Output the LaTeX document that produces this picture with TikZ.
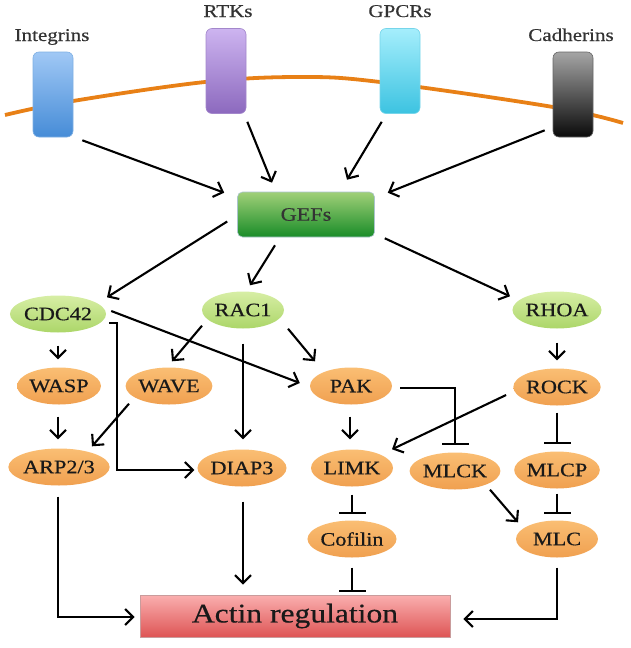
\documentclass[tikz,border=0pt]{standalone}
\usepackage{fontspec}
\setmainfont{Liberation Serif}[FakeStretch=1.17, FakeBold=0.5]
\usetikzlibrary{arrows.meta,shapes.geometric}
\definecolor{memb}{RGB}{232,128,22}
\definecolor{intTop}{RGB}{160,200,245}
\definecolor{intBot}{RGB}{70,140,215}
\definecolor{rtkTop}{RGB}{205,180,240}
\definecolor{rtkBot}{RGB}{140,105,190}
\definecolor{gpcTop}{RGB}{165,238,252}
\definecolor{gpcBot}{RGB}{60,195,225}
\definecolor{cadTop}{RGB}{165,165,165}
\definecolor{cadBot}{RGB}{10,10,10}
\definecolor{gefTop}{RGB}{160,208,120}
\definecolor{gefBot}{RGB}{25,140,40}
\definecolor{gtpTop}{RGB}{215,238,165}
\definecolor{gtpBot}{RGB}{172,214,105}
\definecolor{effTop}{RGB}{250,190,115}
\definecolor{effBot}{RGB}{240,160,80}
\definecolor{actTop}{RGB}{250,175,175}
\definecolor{actBot}{RGB}{222,85,85}
\begin{document}
\begin{tikzpicture}[x=1pt,y=-1pt,
  lab/.style={font=\fontsize{18}{20}\selectfont, text=black!80, anchor=base},
  recep/.style={rounded corners=6pt, minimum width=40pt, minimum height=85pt, inner sep=0pt, line width=0.6pt},
  ell/.style={ellipse, minimum width=82pt, minimum height=37pt, inner sep=0pt, font=\fontsize{19}{21}\selectfont, text=black!90},
  gtp/.style={ell, top color=gtpTop, bottom color=gtpBot},
  eff/.style={ell, top color=effTop, bottom color=effBot},
  arr/.style={line width=2.1pt, -{Straight Barb[length=8pt,width=16pt]}},
  inh/.style={line width=2.1pt, -{Bar[width=27pt]}},
]
\useasboundingbox (0,0) rectangle (630,648);
% membrane
\draw[memb, line width=3.8pt] plot[smooth, tension=0.6] coordinates {(5,115) (73,101) (205,82) (300,77) (380,82) (553,107) (623,123)};
% receptors
\node[recep, draw=intBot!70!white, top color=intTop, bottom color=intBot] (int) at (53,94.5) {};
\node[recep, draw=rtkBot!80!white, top color=rtkTop, bottom color=rtkBot] (rtk) at (226,71) {};
\node[recep, draw=gpcBot!70!white, top color=gpcTop, bottom color=gpcBot] (gpc) at (400,71) {};
\node[recep, draw=black!60, top color=cadTop, bottom color=cadBot] (cad) at (573,94.5) {};
\node[lab] (intl) at (52,41) {Integrins};
\node[lab] (rtkl) at (228,17) {RTKs};
\node[lab] (gpcl) at (400,17) {GPCRs};
\node[lab] (cadl) at (571,41) {Cadherins};
% GEFs
\node[rounded corners=5pt, minimum width=137pt, minimum height=45pt, inner sep=0pt, draw=cyan!30!gray!60, line width=0.6pt, top color=gefTop, bottom color=gefBot, font=\fontsize{19}{21}\selectfont, text=black!80] (gef) at (306,214.5) {GEFs};
% GTPases
\node[gtp] (cdc) at (58,314) {CDC42};
\node[gtp] (rac) at (243,310) {RAC1};
\node[gtp] (rho) at (557,310) {RHOA};
% effectors
\node[eff] (wasp) at (59,386) {WASP};
\node[eff] (wave) at (169,386) {WAVE};
\node[eff] (pak) at (351,386) {PAK};
\node[eff] (rock) at (557,387) {ROCK};
\node[eff] (arp) at (59,467) {ARP2/3};
\node[eff] (dia) at (242,468) {DIAP3};
\node[eff] (limk) at (352,468) {LIMK};
\node[eff] (mlck) at (455,471) {MLCK};
\node[eff] (mlcp) at (557,470) {MLCP};
\node[eff] (cof) at (352,539) {Cofilin};
\node[eff] (mlc) at (557,539) {MLC};
% actin
\node[minimum width=310pt, minimum height=42pt, inner sep=0pt, draw=red!30!gray!60, line width=0.6pt, top color=actTop, bottom color=actBot, font=\fontsize{27}{30}\selectfont, text=black!90] (act) at (295,616) {Actin regulation};
% receptor -> GEFs
\draw[arr] ([shift={(9,3)}]int.south east) -- ([shift={(-13,1)}]gef.north west);
\draw[arr] ([shift={(1,8)}]rtk.south east) -- ([shift={(-34,-9)}]gef.north);
\draw[arr] ([shift={(2,8)}]gpc.south west) -- ([shift={(41,-12)}]gef.north);
\draw[arr] ([shift={(-8,-7)}]cad.south west) -- ([shift={(13,1)}]gef.north east);
% GEFs -> GTPases
\draw[arr] ([shift={(-10,7)}]gef.west) -- ([shift={(49,2)}]cdc.north);
\draw[arr] ([shift={(-31,8)}]gef.south) -- ([shift={(7,-6)}]rac.north);
\draw[arr] ([shift={(10,1)}]gef.south east) -- ([shift={(-47,5)}]rho.north);
% CDC42
\draw[arr] ([shift={(0,13)}]cdc.south) -- ([shift={(-1,-8)}]wasp.north);
\draw[arr] ([shift={(3,9)}]cdc.east) -- ++(8,0) |- ([shift={(-3,2)}]dia.west);
\draw[arr] ([shift={(5,-3)}]cdc.east) -- ([shift={(-10,-3)}]pak.west);
% RAC1
\draw[arr] ([shift={(-41,-3)}]rac.south) -- ([shift={(3,-6)}]wave.north);
\draw[arr] ([shift={(45,0)}]rac.south) -- ([shift={(-36,-6)}]pak.north);
\draw[arr] ([shift={(0,15)}]rac.south) -- ([shift={(1,-10)}]dia.north);
% RHOA
\draw[arr] ([shift={(0,14)}]rho.south) -- ([shift={(0,-8)}]rock.north);
% WASP, WAVE
\draw[arr] ([shift={(-1,12)}]wasp.south) -- ([shift={(-1,-9)}]arp.north);
\draw[arr] ([shift={(-40,-1)}]wave.south) -- ([shift={(33,-2)}]arp.north);
% PAK
\draw[arr] ([shift={(-1,12)}]pak.south) -- ([shift={(-2,-10)}]limk.north);
\draw[inh] ([shift={(8,2)}]pak.east) -| ([shift={(0,-7)}]mlck.north);
% ROCK
\draw[arr] ([shift={(-7,8)}]rock.west) -- ([shift={(40,0)}]limk.north);
\draw[inh] ([shift={(0,7)}]rock.south) -- ([shift={(0,-7)}]mlcp.north);
\draw[inh] ([shift={(0,5)}]mlcp.south) -- ([shift={(0,-6)}]mlc.north);
\draw[arr] ([shift={(35,0)}]mlck.south) -- ([shift={(-39,2)}]mlc.north);
\draw[inh] ([shift={(0,8)}]limk.south) -- ([shift={(0,-6)}]cof.north);
% to actin
\draw[inh] ([shift={(0,10)}]cof.south) -- ([shift={(0,-3)}]cof.south |- act.north);
\draw[arr] ([shift={(1,15)}]dia.south) -- ([shift={(1,-10)}]dia.south |- act.north);
\draw[arr] ([shift={(-1,11)}]arp.south) |- ([shift={(-5,1)}]act.west);
\draw[arr] ([shift={(0,10)}]mlc.south) |- ([shift={(13,3)}]act.east);
\end{tikzpicture}
\end{document}
